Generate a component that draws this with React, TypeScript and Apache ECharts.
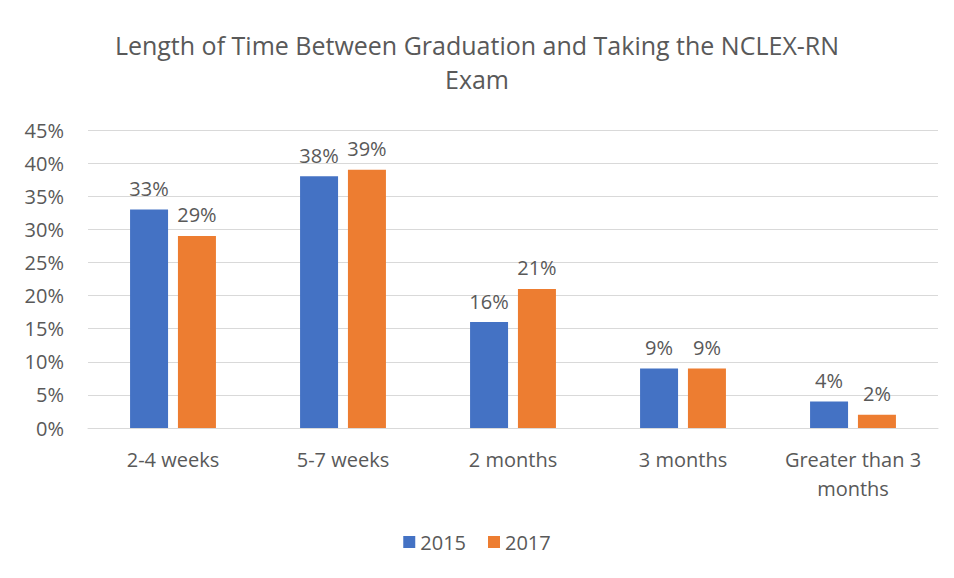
import React, { useEffect, useRef } from "react";
import * as echarts from "echarts";

const categories = ["2-4 weeks", "5-7 weeks", "2 months", "3 months", "Greater than 3\nmonths"];
const values2015 = [33, 38, 16, 9, 4];
const values2017 = [29, 39, 21, 9, 2];
const seriesNames = ["2015", "2017"];
const titleText = "Length of Time Between Graduation and Taking the NCLEX-RN\nExam";

const FONT = "'Open Sans', 'Liberation Sans', sans-serif";
const TEXT = "#595959";

export default function App() {
  const ref = useRef<HTMLDivElement>(null);
  useEffect(() => {
    if (!ref.current) return;
    const chart = echarts.init(ref.current, null, { renderer: "svg" });
    const label = {
      show: true,
      position: "top",
      distance: 11,
      formatter: "{c}%",
      color: TEXT,
      fontSize: 20,
      fontFamily: FONT,
    };
    chart.setOption({
      animation: false,
      backgroundColor: "#ffffff",
      title: {
        text: titleText,
        left: "center",
        top: 23,
        textStyle: {
          color: TEXT,
          fontSize: 25,
          fontWeight: "normal",
          fontFamily: FONT,
          lineHeight: 34,
        },
      },
      graphic: {
        elements: [
          {
            type: "rect",
            left: 6,
            top: 5,
            z: 50,
            silent: true,
            shape: { width: 2, height: 600 },
            style: { fill: "#d9d9d9" },
          },
          {
            type: "rect",
            left: 6,
            top: 5,
            z: 50,
            silent: true,
            shape: { width: 960, height: 2 },
            style: { fill: "#d9d9d9" },
          },
        ],
      },
      legend: {
        data: seriesNames,
        top: 527,
        left: "center",
        itemWidth: 12,
        itemHeight: 12,
        itemGap: 22,
        icon: "rect",
        textStyle: { color: TEXT, fontSize: 20, fontFamily: FONT },
      },
      grid: { left: 88, right: 16, top: 130, bottom: 150 },
      xAxis: {
        type: "category",
        data: categories,
        axisLine: { lineStyle: { color: "#d9d9d9" } },
        axisTick: { show: false },
        axisLabel: {
          color: TEXT,
          fontSize: 20,
          fontFamily: FONT,
          margin: 17,
          lineHeight: 29,
          interval: 0,
        },
      },
      yAxis: {
        type: "value",
        min: 0,
        max: 45,
        interval: 5,
        axisLabel: {
          formatter: "{value}%",
          color: TEXT,
          fontSize: 20,
          fontFamily: FONT,
          margin: 24,
        },
        axisLine: { show: false },
        axisTick: { show: false },
        splitLine: { lineStyle: { color: "#d9d9d9" } },
      },
      series: [
        {
          name: seriesNames[0],
          type: "bar",
          data: values2015,
          barWidth: 38,
          barGap: "26%",
          itemStyle: { color: "#4472C4" },
          label,
        },
        {
          name: seriesNames[1],
          type: "bar",
          data: values2017,
          barWidth: 38,
          barGap: "26%",
          itemStyle: { color: "#ED7D31" },
          label,
        },
      ],
    });
    return () => chart.dispose();
  }, []);
  return (
    <div style={{ position: "relative", width: 954, height: 578, margin: -8, overflow: "hidden" }}>
      <div ref={ref} style={{ position: "absolute", left: 0, top: 0, width: 954, height: 578 }} />
    </div>
  );
}
